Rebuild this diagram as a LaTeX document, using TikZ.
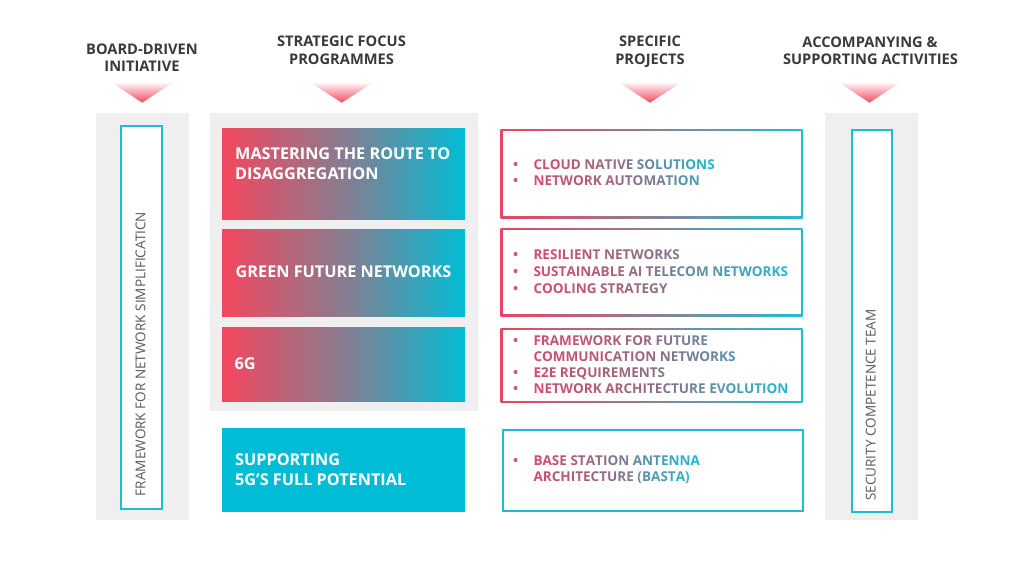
\documentclass[tikz,border=0pt]{standalone}
\usepackage{fontspec}
\setmainfont{Open Sans}
\definecolor{gred}{HTML}{F4475E}
\definecolor{gmid}{HTML}{887C90}
\definecolor{gcyan}{HTML}{00BDD5}
\definecolor{panel}{HTML}{EFEFEF}
\definecolor{hdr}{HTML}{3A3A3A}
\definecolor{vtxt}{HTML}{595959}
\definecolor{tred}{HTML}{D84A68}
\definecolor{tmid}{HTML}{8A7289}
\definecolor{tcyan}{HTML}{22B9CF}
\definecolor{bred}{HTML}{E8455F}
\definecolor{bmid}{HTML}{8E7F92}
\definecolor{bcyan}{HTML}{1DBED3}
\definecolor{bulletc}{HTML}{E0506A}
\definecolor{tripink}{HTML}{FFF0F2}
\definecolor{trired}{HTML}{F24A60}
\newcommand\gwcolor[2]{%
  \ifnum#1<50\relax
    \edef\gwp{\the\numexpr#1*2\relax}\textcolor{tmid!\gwp!tred}{#2}%
  \else
    \edef\gwp{\the\numexpr(#1-50)*2\relax}\textcolor{tcyan!\gwp!tmid}{#2}%
  \fi}
\ExplSyntaxOn
\int_new:N \l_gl_idx_int
\int_new:N \l_gl_pct_int
\int_new:N \l_gl_tot_int
\seq_new:N \l_gl_seq
\bool_new:N \l_gl_first_bool
\NewDocumentCommand\gline{mm}{
  \int_zero:N \l_gl_idx_int
  \int_set:Nn \l_gl_tot_int {#1}
  \seq_set_split:Nnn \l_gl_seq {~} {#2}
  \bool_set_true:N \l_gl_first_bool
  \seq_map_inline:Nn \l_gl_seq {
    \bool_if:NF \l_gl_first_bool { \c_space_tl \int_incr:N \l_gl_idx_int }
    \bool_set_false:N \l_gl_first_bool
    \tl_map_inline:nn {##1} {
      \int_set:Nn \l_gl_pct_int { (\l_gl_idx_int * 100 + 50) / \l_gl_tot_int }
      \int_compare:nNnT {\l_gl_pct_int} > {100} {\int_set:Nn \l_gl_pct_int {100}}
      \gwcolor{\int_use:N \l_gl_pct_int}{####1}
      \int_incr:N \l_gl_idx_int
    }
  }
}
\ExplSyntaxOff
\tikzset{
  panelbox/.style={fill=panel, draw=none, inner sep=0, anchor=north west},
  gradbox/.style={left color=gred, right color=gcyan, middle color=gmid, draw=none, inner sep=0, anchor=north west},
  solidbox/.style={fill=gcyan, draw=none, inner sep=0, anchor=north west},
  gradframe/.style={left color=bred, right color=bcyan, middle color=bmid, draw=none, inner sep=0, anchor=north west},
  frameinner/.style={fill=white, draw=none, inner sep=0},
  cyanframe/.style={fill=white, draw=bcyan, line width=2bp, inner sep=0, anchor=north west},
  hdrtext/.style={font=\fontsize{14.7}{17.5}\selectfont\bfseries, text=hdr, anchor=base, inner sep=0},
  boxtext/.style={font=\fontsize{16.3}{20}\selectfont\bfseries, text=white, anchor=base west, inner sep=0},
  itemtext/.style={font=\fontsize{13.6}{16}\selectfont\bfseries, anchor=base west, inner sep=0},
  bul/.style={font=\fontsize{13.6}{16}\selectfont\bfseries, text=bulletc, anchor=base, inner sep=0},
  vtext/.style={font=\fontsize{13.6}{16}\selectfont, text=vtxt, rotate=90, inner sep=0},
  tri/.style={top color=tripink, bottom color=trired, draw=none},
}
\begin{document}
\begin{tikzpicture}[x=1bp, y=-1bp]
\fill[white] (0,0) rectangle (1031,562);
\useasboundingbox (0,0) rectangle (1031,562);

% headers
\node[hdrtext] (h1a) at (142,54.3) {BOARD-DRIVEN};
\node[hdrtext] (h1b) at (142,71.7) {INITIATIVE};
\node[hdrtext] (h2a) at (341.5,46.7) {STRATEGIC FOCUS};
\node[hdrtext] (h2b) at (341.5,64.3) {PROGRAMMES};
\node[hdrtext] (h3a) at (650,46.7) {SPECIFIC};
\node[hdrtext] (h3b) at (650,64.3) {PROJECTS};
\node[hdrtext] (h4a) at (870,47.3) {ACCOMPANYING \&};
\node[hdrtext] (h4b) at (870.5,64.8) {SUPPORTING ACTIVITIES};

% triangles
\shade[tri] (112.7,83.3) -- (171.7,83.3) -- (142.2,102.7) -- cycle;
\shade[tri] (311.7,83.3) -- (371.7,83.3) -- (341.7,102.7) -- cycle;
\shade[tri] (620,83.3) -- (680,83.3) -- (650,102.7) -- cycle;
\shade[tri] (840,83.3) -- (899,83.3) -- (869.5,102.7) -- cycle;

% gray panels
\node[panelbox, minimum width=92.3bp, minimum height=406.7bp] (lp) at (96,113.3) {};
\node[panelbox, minimum width=267.3bp, minimum height=297.7bp] (mp) at (210,113.3) {};
\node[panelbox, minimum width=92.3bp, minimum height=406bp] (rp) at (825,113.3) {};

% side frames
\node[cyanframe, minimum width=40.2bp, minimum height=382.2bp] (lf) at (120.3,125.3) {};
\node[cyanframe, minimum width=39.7bp, minimum height=381.4bp] (rf) at (851,129.3) {};
\node[vtext] (lft) at (140.6,354) {FRAMEWORK FOR NETWORK SIMPLIFICATICN};
\node[vtext] (rft) at (870.8,405) {SECURITY COMPETENCE TEAM};

% programme boxes
\node[gradbox, minimum width=243bp, minimum height=90.7bp] (p1) at (222,128.3) {};
\node[gradbox, minimum width=243bp, minimum height=87bp] (p2) at (222,229) {};
\node[gradbox, minimum width=243bp, minimum height=74.7bp] (p3) at (222,327) {};
\node[solidbox, minimum width=243bp, minimum height=83.7bp] (p4) at (222,428) {};
\node[boxtext] (p1a) at (235,159.3) {MASTERING THE ROUTE TO};
\node[boxtext] (p1b) at (235,179.3) {DISAGGREGATION};
\node[boxtext] (p2a) at (235.5,277.7) {GREEN FUTURE NETWORKS};
\node[boxtext] (p3a) at (234.5,370) {6G};
\node[boxtext] (p4a) at (235,465.7) {SUPPORTING};
\node[boxtext] (p4b) at (235,485) {5G’S FULL POTENTIAL};

% project boxes
\node[gradframe, minimum width=302bp, minimum height=89bp] (q1) at (500.5,129.3) {};
\node[frameinner, minimum width=298bp, minimum height=85bp] (q1i) at (q1.center) {};
\node[gradframe, minimum width=302bp, minimum height=87.7bp] (q2) at (500.5,228.3) {};
\node[frameinner, minimum width=298bp, minimum height=83.7bp] (q2i) at (q2.center) {};
\node[gradframe, minimum width=302bp, minimum height=74bp] (q3) at (500.5,328.3) {};
\node[frameinner, minimum width=298bp, minimum height=70bp] (q3i) at (q3.center) {};
\node[cyanframe, minimum width=300bp, minimum height=81.3bp] (q4) at (501.5,428.7) {};

% project items
\node[bul] (b11) at (515.7,170) {•};
\node[itemtext] (i11) at (533.3,170) {\gline{22}{CLOUD NATIVE SOLUTIONS}};
\node[bul] (b12) at (515.7,186) {•};
\node[itemtext] (i12) at (533.3,186) {\gline{22}{NETWORK AUTOMATION}};

\node[bul] (b21) at (515.7,260) {•};
\node[itemtext] (i21) at (533.3,260) {\gline{31}{RESILIENT NETWORKS}};
\node[bul] (b22) at (515.7,276.7) {•};
\node[itemtext] (i22) at (533.3,276.7) {\gline{31}{SUSTAINABLE AI TELECOM NETWORKS}};
\node[bul] (b23) at (515.7,293.3) {•};
\node[itemtext] (i23) at (533.3,293.3) {\gline{31}{COOLING STRATEGY}};

\node[bul] (b31) at (515.7,345.3) {•};
\node[itemtext] (i31) at (533.3,345.3) {\gline{30}{FRAMEWORK FOR FUTURE}};
\node[itemtext] (i31b) at (533.3,361.3) {\gline{30}{COMMUNICATION NETWORKS}};
\node[bul] (b32) at (515.7,377.7) {•};
\node[itemtext] (i32) at (533.3,377.7) {\gline{30}{E2E REQUIREMENTS}};
\node[bul] (b33) at (515.7,393.3) {•};
\node[itemtext] (i33) at (533.3,393.3) {\gline{30}{NETWORK ARCHITECTURE EVOLUTION}};

\node[bul] (b41) at (515.7,465.7) {•};
\node[itemtext] (i41) at (533.3,465.7) {\gline{20}{BASE STATION ANTENNA}};
\node[itemtext] (i41b) at (533.3,481.7) {\gline{20}{ARCHITECTURE (BASTA)}};
\end{tikzpicture}
\end{document}
